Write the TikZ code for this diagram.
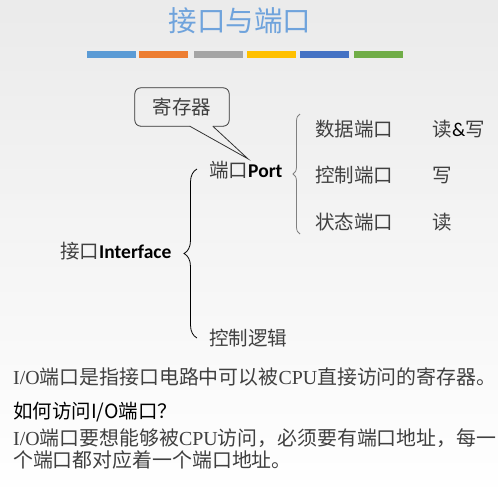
\documentclass[tikz,border=0pt]{standalone}
\usepackage{fontspec}
\setmainfont{Liberation Serif}
\newfontfamily\cjk{Noto Sans CJK SC}
\newfontfamily\carlito{Carlito}
\usepackage{xcolor}
\usepackage{tikz}
\usetikzlibrary{positioning,calc,decorations.pathreplacing}

\definecolor{titleblue}{HTML}{6FA3DC}
\definecolor{barA}{HTML}{5B9BD5}
\definecolor{barB}{HTML}{ED7D31}
\definecolor{barC}{HTML}{A5A5A5}
\definecolor{barD}{HTML}{FFC000}
\definecolor{barE}{HTML}{4472C4}
\definecolor{barF}{HTML}{70AD47}
\definecolor{txtgray}{HTML}{404040}
\newcommand{\latin}[1]{{\carlito\bfseries\color{black}#1}}

\begin{document}
\begin{tikzpicture}[x=1pt, y=-1pt, >=latex]
    \tikzstyle{item} = [inner sep=0pt, anchor=west, text=txtgray, font=\cjk\fontsize{19.5}{23}\selectfont]
    \tikzstyle{textline} = [inner sep=0pt, anchor=west, text=txtgray, font=\fontsize{19.9}{23}\selectfont]
    \tikzstyle{regbox} = [minimum width=94pt, minimum height=38pt, inner sep=0pt, text=txtgray, font=\cjk\fontsize{19.5}{23}\selectfont]
    \tikzstyle{bubble} = [line width=0.8pt, draw=black!80]
    \tikzstyle{bracegray} = [line width=0.8pt, draw=black!50, decorate, decoration={brace, amplitude=7pt}]
    \tikzstyle{bracedark} = [line width=0.8pt, draw=black, decorate, decoration={brace, amplitude=13pt}]

    % background
    \useasboundingbox (0,0) rectangle (498,499);
    \fill[top color=black!8, bottom color=white] (0,0) rectangle (498,499);

    % title and colour bars
    \node (title) at (240,21) [inner sep=0pt, text=titleblue, font=\cjk\fontsize{28.5}{30}\selectfont] {接口与端口};
    \foreach \x/\c in {87/barA, 139/barB, 194/barC, 247/barD, 300/barE, 354/barF}
        \fill[\c] (\x,51) rectangle ++(49,7);

    % tree
    \node (iface) [item] at (60,251) {接口\latin{Interface}};
    \node (port) [item] at (209,170) {端口\latin{Port}};
    \node (logic) [item] at (209,338) {控制逻辑};

    \node (data) [item] at (315,129) {数据端口};
    \node (ctrl) [item, below=46.5pt of data.west, anchor=west] {控制端口};
    \node (stat) [item, below=46.5pt of ctrl.west, anchor=west] {状态端口};
    \node (rw) [item, right=39pt of data] {读{\carlito\color{black}\&}写};
    \node (wr) [item, right=39pt of ctrl] {写};
    \node (rd) [item, right=39pt of stat] {读};

    \coordinate (ibtop) at (197,169);
    \coordinate (ibbot) at (197,338);
    \coordinate (pbtop) at (300,114);
    \coordinate (pbbot) at (300,234);
    \draw[bracedark] (ibbot) -- (ibtop);
    \draw[bracegray] (pbbot) -- (pbtop);

    % callout
    \node (reg) [regbox] at (182,107) {寄存器};
    \coordinate (tip) at ([xshift=39pt, yshift=2pt]port.north west);
    \coordinate (pl) at ([xshift=55pt]reg.south west);
    \coordinate (pr) at ([xshift=78pt]reg.south west);
    \draw[bubble, rounded corners=6pt] (pr) -| (reg.north east) -| (reg.south west) -- (pl);
    \draw[bubble] (pl) -- (tip) -- (pr);

    % notes
    \node (note1) [textline] at (13,377) {I/O{\cjk 端口是指接口电路中可以被}CPU{\cjk 直接访问的寄存器。}};
    \node (note2) [textline, text=black, font=\cjk\fontsize{19.5}{23}\selectfont] at (13,412) {如何访问I/O端口？};
    \node (note3) [textline] at (13,438) {I/O{\cjk 端口要想能够被}CPU{\cjk 访问，必须要有端口地址，每一}};
    \node (note4) [textline] at (13,460) {{\cjk 个端口都对应着一个端口地址。}};
\end{tikzpicture}
\end{document}
